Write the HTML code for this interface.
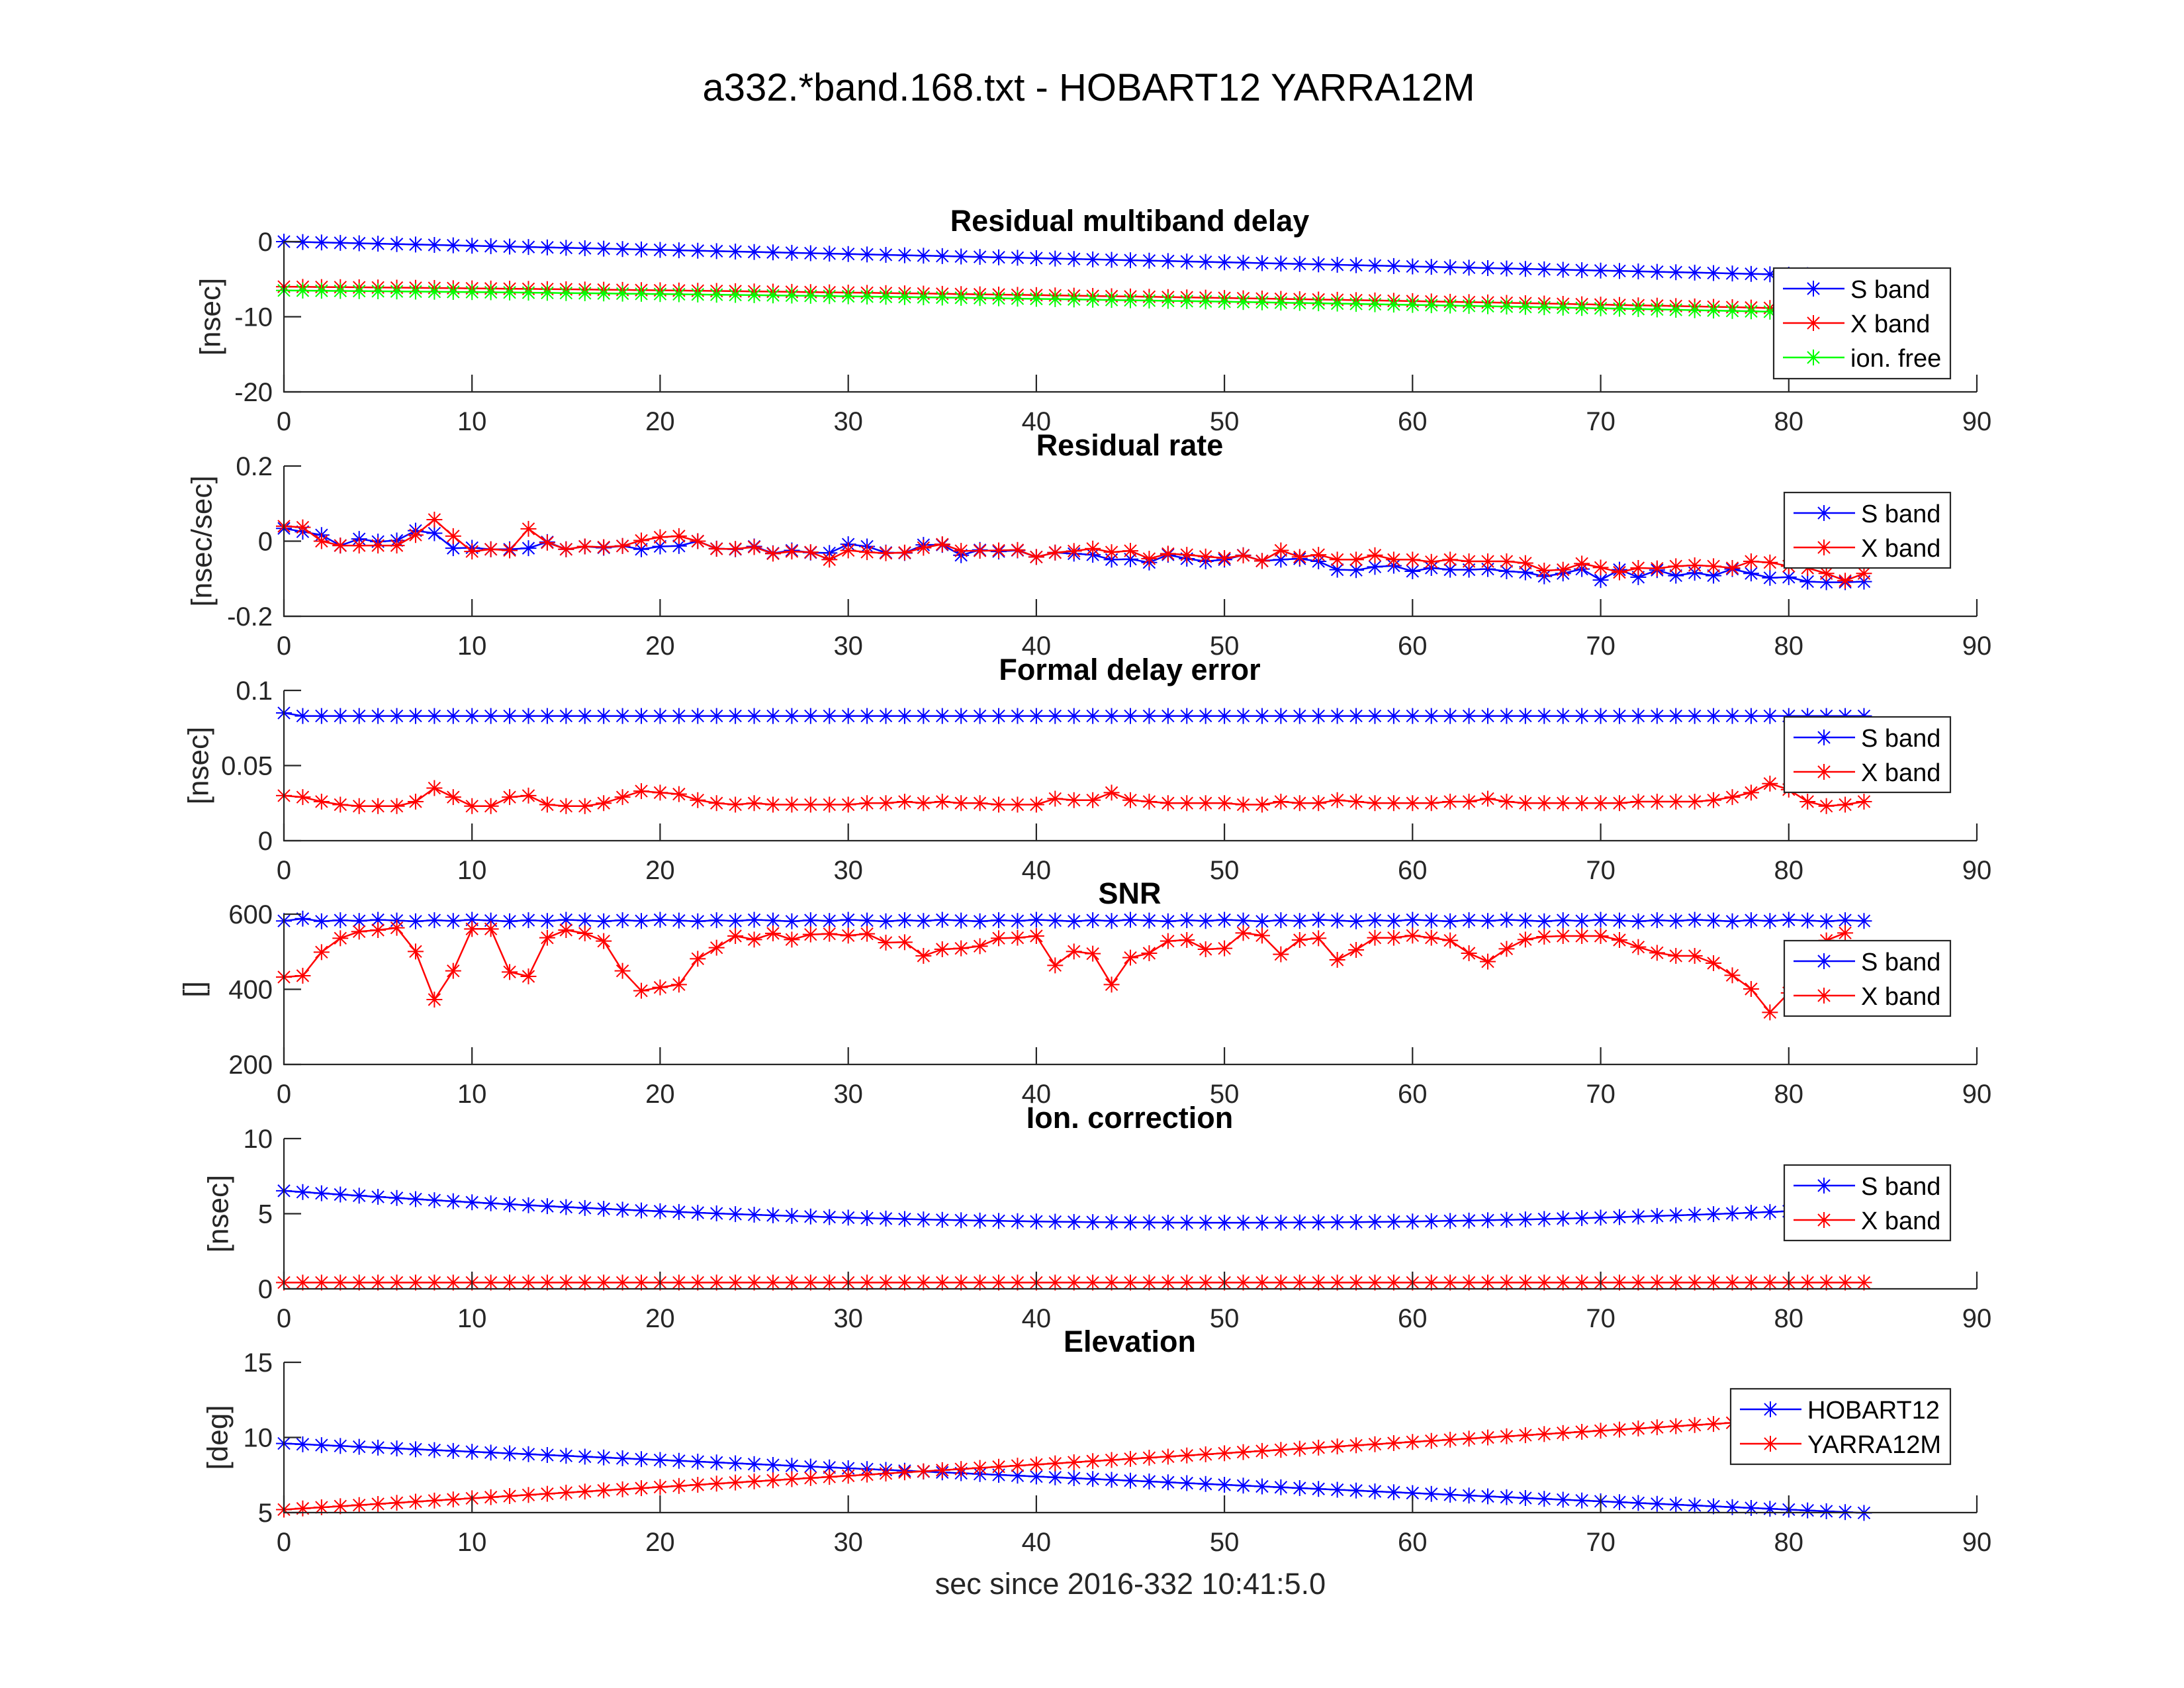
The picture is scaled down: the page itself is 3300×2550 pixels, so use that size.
<!DOCTYPE html>
<html><head><meta charset="utf-8"><style>
html,body{margin:0;padding:0;background:#fff;}
svg{display:block;}
text{font-family:"Liberation Sans",Arial,sans-serif;}
</style></head><body>
<svg id="s" width="3300" height="2550" viewBox="0 0 3300 2550" xmlns="http://www.w3.org/2000/svg">
<rect width="3300" height="2550" fill="#fff"/>
<text x="1645" y="152" font-size="58" text-anchor="middle" fill="#000">a332.*band.168.txt - HOBART12 YARRA12M</text>
<text x="1708" y="2408" font-size="45" text-anchor="middle" fill="#262626">sec since 2016-332 10:41:5.0</text>
</svg>
<script>
const S=document.getElementById('s');const NS='http://www.w3.org/2000/svg';
function el(t,a,txt){const e=document.createElementNS(NS,t);for(const k in a)e.setAttribute(k,a[k]);if(txt!==undefined)e.textContent=txt;S.appendChild(e);return e;}
const X0=429,XU=(2987-429)/90;
const bottoms=[592,931,1270,1608,1947,2285],H=227;
const B='#0000ff',R='#ff0000',G='#00ff00';
function rng(n,f){const a=[];for(let i=0;i<n;i++)a.push(f(i));return a;}
const p2r=[280,285,348,368,368,368,368,320,250,325,395,385,390,292,355,385,372,375,370,345,330,325,348,383,383,375,405,395,398,432,390,398,403,400,378,362,392,392,390,388,420,400,393,382,398,392,428,405,410,418,425,413,438,390,420,410,432,432,412,432,432,442,432,440,440,440,448,482,478,450,468,490,470,472,462,458,462,470,440,445,462,470,495,528,495].map(v=>(348-v)/342*0.2);
const p2b=[290,305,320,368,338,350,345,300,312,380,378,385,385,380,352,385,372,378,370,385,372,370,348,382,385,372,403,390,400,402,362,372,400,402,365,365,412,388,395,390,420,400,405,410,432,430,445,410,428,440,432,412,438,432,428,440,478,480,465,460,485,470,478,478,475,485,490,508,495,475,525,478,512,480,505,492,505,475,495,515,512,532,535,535,532].map(v=>(348-v)/342*0.2);
const p4rd=[318,312,205,142,112,105,95,202,420,290,100,100,295,315,140,105,120,155,290,380,365,352,235,185,132,148,120,148,125,122,130,122,162,160,222,192,188,178,142,140,132,265,202,212,352,230,210,155,150,192,188,118,130,215,150,142,240,195,140,140,130,140,152,210,248,190,148,135,132,132,132,150,182,208,222,222,255,310,372,478,390,254,152,118];
const p4r=p4rd.map(v=>600-(v-33)/681*400);
const p4b=rng(85,i=>i==0?582:(i==1?588:585-((i*7)%5)));
const p3x=[0.030,0.029,0.026,0.024,0.023,0.023,0.023,0.026,0.035,0.029,0.023,0.023,0.029,0.030,0.024,0.023,0.023,0.025,0.029,0.033,0.032,0.031,0.027,0.025,0.024,0.025,0.024,0.024,0.024,0.024,0.024,0.025,0.025,0.026,0.025,0.026,0.025,0.025,0.024,0.024,0.024,0.028,0.027,0.027,0.032,0.027,0.026,0.025,0.025,0.025,0.025,0.024,0.024,0.026,0.025,0.025,0.027,0.026,0.025,0.025,0.025,0.025,0.026,0.026,0.028,0.026,0.025,0.025,0.025,0.025,0.025,0.025,0.026,0.026,0.026,0.026,0.027,0.029,0.032,0.038,0.034,0.026,0.023,0.024,0.026];
const panels=[
 {ymin:-20,ymax:0,ticks:[0,-10,-20],tl:['0','-10','-20'],yl:'[nsec]',ylx:318,title:'Residual multiband delay',
  series:[[B,rng(85,i=>-0.055*i)],[R,rng(85,i=>-6-0.02*i-0.0002*i*i)],[G,rng(85,i=>-6.5-0.02*i-0.0002*i*i)]],
  leg:{l:2680,names:['S band','X band','ion. free'],cols:[B,R,G]}},
 {ymin:-0.2,ymax:0.2,ticks:[0.2,0,-0.2],tl:['0.2','0','-0.2'],yl:'[nsec/sec]',ylx:305,title:'Residual rate',
  series:[[B,p2b],[R,p2r]],leg:{l:2696,names:['S band','X band'],cols:[B,R]}},
 {ymin:0,ymax:0.1,ticks:[0.1,0.05,0],tl:['0.1','0.05','0'],yl:'[nsec]',ylx:300,title:'Formal delay error',
  series:[[B,rng(85,i=>i==0?0.085:0.083)],[R,p3x]],leg:{l:2696,names:['S band','X band'],cols:[B,R]}},
 {ymin:200,ymax:600,ticks:[600,400,200],tl:['600','400','200'],yl:'[]',ylx:293,title:'SNR',
  series:[[B,p4b],[R,p4r]],leg:{l:2696,names:['S band','X band'],cols:[B,R]}},
 {ymin:0,ymax:10,ticks:[10,5,0],tl:['10','5','0'],yl:'[nsec]',ylx:330,title:'Ion. correction',
  series:[[B,rng(85,i=>4.4+0.00085*(i-50)*(i-50))],[R,rng(85,i=>0.42)]],leg:{l:2696,names:['S band','X band'],cols:[B,R]}},
 {ymin:5,ymax:15,ticks:[15,10,5],tl:['15','10','5'],yl:'[deg]',ylx:329,title:'Elevation',
  series:[[B,rng(85,i=>9.6-0.055*i)],[R,rng(85,i=>5.2+0.075*i)]],leg:{l:2615,names:['HOBART12','YARRA12M'],cols:[B,R]}}
];
function star(g,x,y,c){
 const r=12,d=9;
 el('path',{d:`M${x-r},${y}H${x+r}M${x},${y-r}V${y+r}M${x-d},${y-d}L${x+d},${y+d}M${x-d},${y+d}L${x+d},${y-d}`,stroke:c,'stroke-width':2,fill:'none'});
}
panels.forEach((p,k)=>{
 const b=bottoms[k],t=b-H;
 const Y=v=>b-(v-p.ymin)/(p.ymax-p.ymin)*H;
 p.series.forEach(([c,d])=>{
  const pts=d.map((v,i)=>`${(X0+i*XU).toFixed(1)},${Y(v).toFixed(1)}`).join(' ');
  el('polyline',{points:pts,fill:'none',stroke:c,'stroke-width':2.5,'stroke-linejoin':'round'});
  d.forEach((v,i)=>star(null,X0+i*XU,Y(v),c));
 });
 el('path',{d:`M${X0},${t}V${b}H2987`,stroke:'#262626','stroke-width':2.2,fill:'none'});
 let tk='';
 for(let i=0;i<=9;i++){const x=X0+i*10*XU;tk+=`M${x.toFixed(1)},${b}V${b-26}`;
  el('text',{x:x.toFixed(1),y:b+58,'font-size':40,'text-anchor':'middle',fill:'#262626'},String(i*10));}
 p.ticks.forEach((v,j)=>{const y=Y(v);tk+=`M${X0},${y}H${X0+26}`;
  el('text',{x:X0-17,y:y+14,'font-size':40,'text-anchor':'end',fill:'#262626'},p.tl[j]);});
 el('path',{d:tk,stroke:'#262626','stroke-width':2.2,fill:'none'});
 el('text',{x:p.ylx,y:(t+b)/2,'font-size':44,'text-anchor':'middle',fill:'#262626',transform:`rotate(-90 ${p.ylx} ${(t+b)/2})`,'dominant-baseline':'central'},p.yl);
 el('text',{x:1707,y:t-16,'font-size':45,'font-weight':'bold','text-anchor':'middle',fill:'#000'},p.title);
 const L=p.leg,lt=t+40,n=L.names.length,lh=n==3?167:114;
 el('rect',{x:L.l,y:lt,width:2947-L.l,height:lh,fill:'#fff',stroke:'#262626','stroke-width':2.2});
 L.names.forEach((nm,j)=>{const cy=lt+31+j*52;
  el('line',{x1:L.l+14,y1:cy,x2:L.l+107,y2:cy,stroke:L.cols[j],'stroke-width':2.5});
  star(null,L.l+60,cy,L.cols[j]);
  el('text',{x:L.l+116,y:cy+14,'font-size':38,fill:'#000'},nm);
 });
});
</script>
</body></html>
